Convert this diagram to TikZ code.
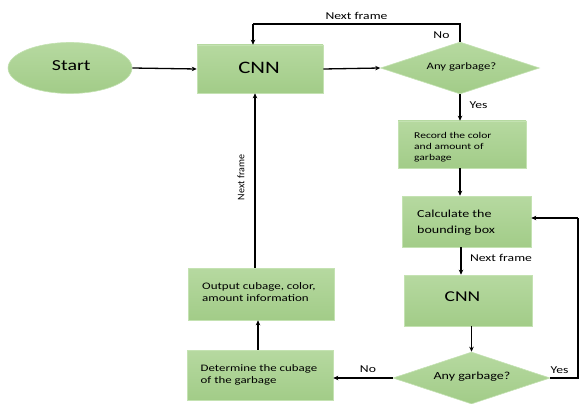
\documentclass[tikz,border=0pt]{standalone}
\usepackage{fontspec}
\setmainfont{Carlito}
\newfontfamily\wfont[FakeStretch=1.3]{Carlito}
\usetikzlibrary{shapes.geometric,arrows.meta}
\definecolor{gtop}{RGB}{182,217,160}
\definecolor{gbot}{RGB}{162,204,136}
\definecolor{gline}{RGB}{196,226,178}
\tikzset{
  gshade/.style={top color=gtop,bottom color=gbot,draw=gline,line width=0.6pt,inner sep=0pt},
  gbox/.style={gshade},
  gdia/.style={gshade,diamond,aspect=3},
  conn/.style={line width=1.3pt,-{Stealth[length=5pt,width=4.5pt]}},
  plain/.style={line width=1.3pt},
  wtext/.style={inner sep=0pt,font=\wfont\fontsize{#1}{#1}\selectfont},
  ltext/.style={wtext=#1,anchor=base west},
  lbl/.style={wtext=10.5}
}
\begin{document}
\begin{tikzpicture}[x=1pt,y=-1pt]
\useasboundingbox (0,0) rectangle (579,404);
% shapes
\node[gshade,ellipse,minimum width=124pt,minimum height=51pt] (start) at (70,68) {};
\node[gbox,minimum width=126pt,minimum height=48pt] (cnn1) at (260,69) {};
\node[gdia,minimum width=159pt,minimum height=52pt] (d1) at (460,68) {};
\node[gbox,minimum width=128pt,minimum height=47pt] (rec) at (462,144.5) {};
\node[gbox,minimum width=129pt,minimum height=51pt] (calc) at (466.5,221.5) {};
\node[gbox,minimum width=128pt,minimum height=51pt] (cnn2) at (468,300.5) {};
\node[gdia,minimum width=157pt,minimum height=52pt] (d2) at (471.5,378) {};
\node[gbox,minimum width=146pt,minimum height=50pt] (det) at (260,375) {};
\node[gbox,minimum width=146pt,minimum height=52pt] (out) at (261,294) {};
% texts
\node[wtext=15.3] (tstart) at (71.3,66) {Start};
\node[wtext=17.5] (tcnn1) at (259,68.3) {CNN};
\node[wtext=9.8] (td1) at (461.5,66.5) {Any garbage?};
\node[ltext=8.9] (tr1) at (414,138.5) {Record the color};
\node[ltext=8.9] (tr2) at (414,149.5) {and amount of};
\node[ltext=8.9] (tr3) at (414,160.5) {garbage};
\node[ltext=10.8] (tc1) at (417,217.5) {Calculate the};
\node[ltext=10.8] (tc2) at (417,233) {bounding box};
\node[wtext=15] (tcnn2) at (462.5,296.7) {CNN};
\node[wtext=10.8] (td2) at (472,377) {Any garbage?};
\node[ltext=10] (to1) at (202,289.5) {Output cubage, color,};
\node[ltext=10] (to2) at (202,301.5) {amount information};
\node[ltext=9.9] (tt1) at (200.5,371) {Determine the cubage};
\node[ltext=9.9] (tt2) at (200.5,383) {of the garbage};
% connector points
\coordinate (tl) at (253,24);
\coordinate (tr) at (460,24);
\coordinate (rb) at (578,378);
\coordinate (rt) at (578,218);
% connectors
\draw[conn] (start.east) -- (cnn1.west);
\draw[conn] (cnn1.east) -- (d1.west);
\draw[plain] (d1.north) -- (tr) -- (tl);
\draw[conn] (tl) -- (cnn1.north -| tl);
\draw[conn] (d1.south) -- (rec.north -| d1.south);
\draw[conn] (rec.south -| d1.south) -- (calc.north -| d1.south);
\draw[conn] (calc.south -| 461,0) -- (cnn2.north -| 461,0);
\draw[conn] (cnn2.south -| d2.north) -- (d2.north);
\draw[plain] (d2.east) -- (rb) -- (rt);
\draw[conn] (rt) -- (calc.east |- rt);
\draw[conn] (d2.west) -- (det.east |- d2.west);
\draw[conn] (det.north -| 258,0) -- (out.south -| 258,0);
\draw[conn] (out.north -| 255,0) -- (cnn1.south -| 255,0);
% labels
\node[lbl] (l1) at (356.5,15.5) {Next frame};
\node[lbl] (l2) at (441.5,35.5) {No};
\node[lbl] (l3) at (478.5,105.5) {Yes};
\node[lbl] (l4) at (501,257.5) {Next frame};
\node[lbl] (l5) at (559.5,370) {Yes};
\node[lbl] (l6) at (368,369.5) {No};
\node[inner sep=0pt,rotate=90,font=\fontsize{10}{10}\selectfont] (l7) at (241,177.5) {Next frame};
\end{tikzpicture}
\end{document}
